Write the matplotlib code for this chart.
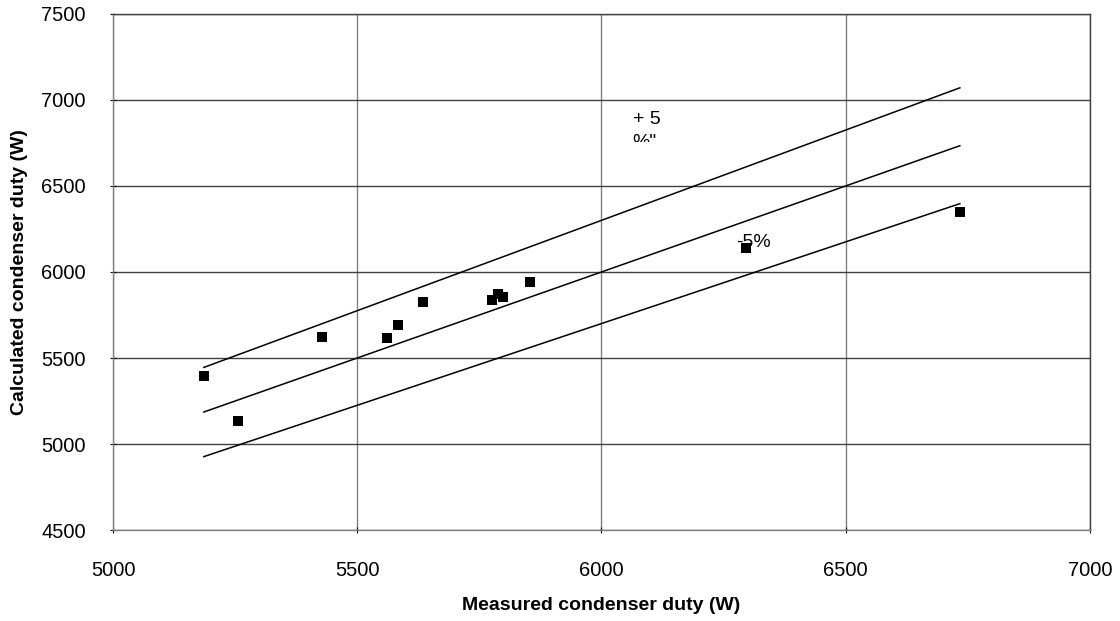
import matplotlib
matplotlib.use("Agg")
import matplotlib.pyplot as plt
import numpy as np
from matplotlib.patches import Rectangle

plt.rcParams['font.family'] = ['Liberation Sans', 'DejaVu Sans']

measured = [5186, 5256, 5428, 5561, 5583, 5635, 5776, 5788, 5798, 5854, 6296, 6734]
calculated = [5395, 5135, 5625, 5616, 5692, 5826, 5837, 5872, 5855, 5942, 6140, 6349]
line_x = [5186, 6734]
factors = [1.05, 1.0, 0.95]

fig = plt.figure(figsize=(11.2, 6.21), dpi=100)
ax = fig.add_axes([0.1009, 0.1465, 0.8721, 0.831])

for f in factors:
    ax.plot(line_x, [v * f for v in line_x], color='black', lw=1.1, zorder=2)

ax.scatter(measured, calculated, marker='s', s=55, color='black', zorder=4, linewidths=0)

ax.set_xlim(5000, 7000)
ax.set_ylim(4500, 7500)
ax.set_xticks(np.arange(5000, 7001, 500))
ax.set_yticks(np.arange(4500, 7501, 500))
ax.yaxis.grid(True, color='#404040', lw=1)
ax.xaxis.grid(True, color='#808080', lw=1)
ax.set_axisbelow(True)
for s in ['top', 'right']:
    ax.spines[s].set_color('#404040')
for s in ['left', 'bottom']:
    ax.spines[s].set_color('#808080')
for s in ax.spines.values():
    s.set_linewidth(1)
ax.tick_params(axis='both', labelsize=14.5, length=5, direction='inout', color='black')
ax.tick_params(axis='x', pad=20)
ax.tick_params(axis='y', pad=17)

ax.set_xlabel('Measured condenser duty (W)', fontsize=14, fontweight='bold')
ax.set_ylabel('Calculated condenser duty (W)', fontsize=14, fontweight='bold')
ax.xaxis.set_label_coords(0.5, -0.13)
ax.yaxis.set_label_coords(-0.087, 0.5)

ax.text(6064, 6860, '+ 5', fontsize=14, zorder=3)
t = ax.text(6064, 6725, '%"', fontsize=14, zorder=3)
clip = Rectangle((6000, 6756), 300, 500, transform=ax.transData)
t.set_clip_on(True)
t.set_clip_path(clip)
ax.text(6275, 6145, '-5%', fontsize=14, zorder=3)

fig.savefig('out.png', dpi=100)
